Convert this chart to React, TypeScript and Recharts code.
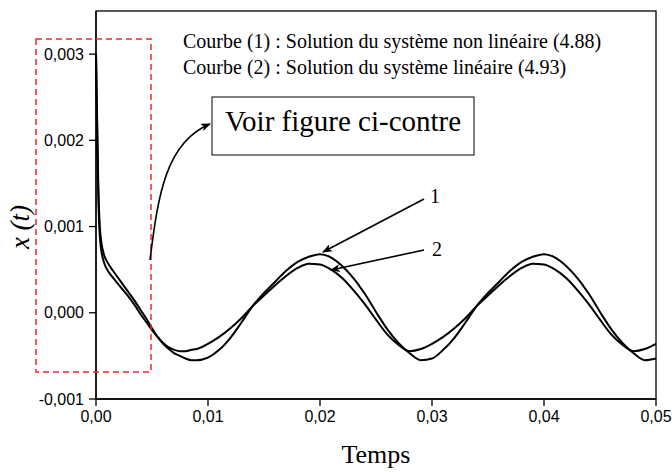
import React from 'react';
import { LineChart, Line, XAxis, YAxis } from 'recharts';

// time samples (s) shared by both curves
const times = [
  0, 0.0001, 0.0002, 0.0003, 0.0004, 0.0005, 0.0007, 0.001, 0.0015, 0.002,
  0.0025, 0.003, 0.0035, 0.004, 0.0045, 0.005, 0.0055, 0.006, 0.0065, 0.007,
  0.0075, 0.008, 0.0085, 0.009, 0.01, 0.011, 0.012, 0.013, 0.014, 0.015,
  0.016, 0.017, 0.018, 0.019, 0.02, 0.021, 0.022, 0.023, 0.024, 0.025,
  0.026, 0.027, 0.028, 0.029, 0.03, 0.031, 0.032, 0.033, 0.034, 0.035,
  0.036, 0.037, 0.038, 0.039, 0.04, 0.041, 0.042, 0.043, 0.044, 0.045,
  0.046, 0.047, 0.048, 0.049, 0.05,
];

// courbe (1) : système non linéaire
const courbe1 = [
  0.003, 0.00225, 0.0015, 0.0011, 0.0009, 0.0008, 0.00068, 0.00059, 0.00049, 0.0004,
  0.00031, 0.00022, 0.00013, 0.00003, -0.00007, -0.00018, -0.00028, -0.00036, -0.00042, -0.00047,
  -0.0005, -0.00053, -0.00055, -0.00055, -0.00052, -0.00043, -0.00029, -0.00011, 0.00008, 0.00023,
  0.00036, 0.00049, 0.00059, 0.00065, 0.00068, 0.00064, 0.00054, 0.0004, 0.00022, 0.00001,
  -0.00019, -0.00035, -0.00047, -0.00055, -0.00053, -0.00043, -0.00029, -0.00011, 0.00008, 0.00023,
  0.00036, 0.00049, 0.00059, 0.00065, 0.00068, 0.00064, 0.00054, 0.0004, 0.00022, 0.00001,
  -0.00019, -0.00035, -0.00047, -0.00055, -0.00053,
];

// courbe (2) : système linéaire
const courbe2 = [
  0.003, 0.00215, 0.0014, 0.00098, 0.0008, 0.0007, 0.00059, 0.0005, 0.00041, 0.00033,
  0.00025, 0.00017, 0.00008, -0.00002, -0.00011, -0.0002, -0.00028, -0.00035, -0.0004, -0.00043,
  -0.000445, -0.000445, -0.00043, -0.00042, -0.00036, -0.00028, -0.00018, -0.00006, 0.00008, 0.0002,
  0.00032, 0.00043, 0.00052, 0.00057, 0.00056, 0.0005, 0.0004, 0.00026, 0.0001, -0.00008,
  -0.00025, -0.00037, -0.000445, -0.00042, -0.00036, -0.00028, -0.00018, -0.00006, 0.00008, 0.0002,
  0.00032, 0.00043, 0.00052, 0.00057, 0.00056, 0.0005, 0.0004, 0.00026, 0.0001, -0.00008,
  -0.00025, -0.00037, -0.000445, -0.00042, -0.00036,
];

const xTicks = [0, 0.01, 0.02, 0.03, 0.04, 0.05];
const yTicks = [-0.001, 0, 0.001, 0.002, 0.003];

const legendLines = [
  'Courbe (1) : Solution du système non linéaire (4.88)',
  'Courbe (2) : Solution du système linéaire (4.93)',
];

const data = times.map((t, i) => ({ t, c1: courbe1[i], c2: courbe2[i] }));

const sans = '"Liberation Sans", Arial, sans-serif';
const serif = '"Liberation Serif", "Times New Roman", serif';

const W = 672;
const H = 472;
const M = { top: 11, right: 16, bottom: 0, left: 0 };
const Y_W = 96;
const X_H = 73;

const tickStyle = { fill: '#000', fontSize: 16, fontFamily: sans };
const fmtX = (v: number) => v.toFixed(2).replace('.', ',');
const fmtY = (v: number) => v.toFixed(3).replace('.', ',');

const Annotations = () => {
  // plot box, same as the chart's inner area
  const px = M.left + Y_W;
  const py = M.top;
  const pw = W - px - M.right;
  const ph = H - py - M.bottom - X_H;
  return (
    <svg width={W} height={H} style={{ position: 'absolute', left: 0, top: 0, pointerEvents: 'none' }}>
      <defs>
        <marker id="head" markerWidth="10" markerHeight="8" refX="9" refY="4" orient="auto" markerUnits="userSpaceOnUse">
          <path d="M0,0 L10,4 L0,8 L2.5,4 Z" fill="#000" />
        </marker>
      </defs>

      <rect x={px} y={py} width={pw} height={ph} fill="none" stroke="#000" strokeWidth={1.3} />

      {/* zoom window on the transient */}
      <rect x={36} y={39} width={115} height={333} fill="none" stroke="#f02828" strokeWidth={1.5} strokeDasharray="6 4" />

      <path d="M150,260 C158,195 166,142 210,124" fill="none" stroke="#000" strokeWidth={1.6} markerEnd="url(#head)" />
      <rect x={212} y={97} width={262} height={58} fill="#fff" stroke="#000" strokeWidth={1} />
      <text x={343} y={131} textAnchor="middle" fontFamily={serif} fontSize={29} fill="#000">
        Voir figure ci-contre
      </text>

      {legendLines.map((s, i) => (
        <text key={s} x={183} y={48 + i * 26} fontFamily={serif} fontSize={20} fill="#000">
          {s}
        </text>
      ))}

      <line x1={424} y1={199} x2={323} y2={252} stroke="#000" strokeWidth={1.6} markerEnd="url(#head)" />
      <line x1={424} y1={250} x2={331} y2={270} stroke="#000" strokeWidth={1.6} markerEnd="url(#head)" />
      <text x={435} y={203} textAnchor="middle" fontFamily={serif} fontSize={20} fill="#000">1</text>
      <text x={437} y={256} textAnchor="middle" fontFamily={serif} fontSize={20} fill="#000">2</text>

      <text
        transform="translate(29,227) rotate(-90)"
        textAnchor="middle"
        fontFamily={serif}
        fontStyle="italic"
        fontSize={27}
        fill="#000"
      >
        x (t)
      </text>
      <text x={376} y={463} textAnchor="middle" fontFamily={serif} fontSize={26} fill="#000">
        Temps
      </text>
    </svg>
  );
};

export default function App() {
  return (
    <div style={{ position: 'absolute', left: 0, top: 0, width: W, height: H, background: '#fff' }}>
      <LineChart width={W} height={H} data={data} margin={M}>
        <XAxis
          dataKey="t"
          type="number"
          domain={[0, 0.05]}
          ticks={xTicks}
          tickFormatter={fmtX}
          tick={tickStyle}
          tickSize={7}
          tickMargin={5}
          height={X_H}
          stroke="#000"
          strokeWidth={1.3}
        />
        <YAxis
          type="number"
          domain={[-0.001, 0.0035]}
          ticks={yTicks}
          tickFormatter={fmtY}
          tick={tickStyle}
          tickSize={7}
          tickMargin={5}
          width={Y_W}
          stroke="#000"
          strokeWidth={1.3}
        />
        <Line type="monotone" dataKey="c1" stroke="#000" strokeWidth={2} dot={false} isAnimationActive={false} />
        <Line type="monotone" dataKey="c2" stroke="#000" strokeWidth={2} dot={false} isAnimationActive={false} />
      </LineChart>
      <Annotations />
    </div>
  );
}
